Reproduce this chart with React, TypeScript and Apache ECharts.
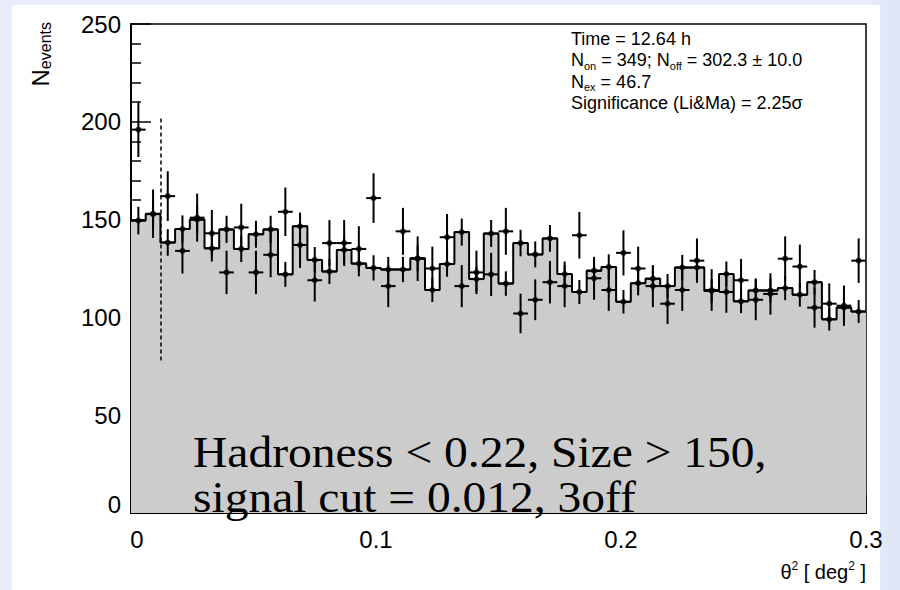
import React, { useEffect, useRef } from "react";
import * as echarts from "echarts";

// ---- data ----
const BIN_WIDTH = 0.006;
const SIGNAL_CUT = 0.012;
const N_OFF_REGIONS = 3;

// OFF histogram (normalised, 3 off regions), one value per bin of 0.006 deg^2
const offCounts = [
  149.5, 152.8, 138.3, 145.2, 150.0, 135.3, 145.0, 135.0, 142.5, 145.0,
  122.0, 146.6, 129.4, 123.5, 134.5, 127.5, 125.3, 124.5, 124.5, 130.2,
  114.0, 127.3, 143.6, 119.6, 142.9, 117.3, 138.0, 132.2, 140.4, 122.2,
  113.0, 123.9, 125.8, 108.0, 117.5, 119.8, 116.0, 125.5, 125.5, 113.5,
  122.2, 108.2, 113.8, 113.8, 115.0, 111.6, 118.0, 99.0, 105.0, 103.0,
];

// ON counts, one per bin
const onCounts = [
  196, 153, 162, 134, 151, 143, 123, 146, 123, 132,
  154, 137, 119, 138, 138, 135, 161, 116, 144, 130,
  125, 141, 116, 123, 122, 144, 102, 109, 118, 116,
  142, 120, 114, 133, 125, 116, 107, 114, 129, 114,
  113, 119, 109, 112, 130, 126, 105, 107, 106, 129,
];

const xTickLabels = ["0", "0.1", "0.2", "0.3"];
const yTickLabels = ["0", "50", "100", "150", "200", "250"];
const cutLineRange = [78, 203];

const statsLines = [
  "{t|Time = 12.64 h}",
  "{t|N}{s|on}{t| = 349; N}{s|off}{t| = 302.3 ± 10.0}",
  "{t|N}{s|ex}{t| = 46.7}",
  "{t|Significance (Li&Ma) = 2.25σ}",
];
const cutTextLines = ["Hadroness < 0.22, Size > 150,", "signal cut = 0.012, 3off"];

const SANS = "'Liberation Sans', Arial, Helvetica, sans-serif";
const SERIF = "'Liberation Serif', 'Times New Roman', serif";

export default function App() {
  const ref = useRef<HTMLDivElement>(null);

  useEffect(() => {
    if (!ref.current) return;
    const chart = echarts.init(ref.current, null, { renderer: "svg" });

    const nBins = offCounts.length;
    const edges: number[][] = offCounts.map((v, i) => [i * BIN_WIDTH, v]);
    edges.push([nBins * BIN_WIDTH, offCounts[nBins - 1]]);

    const center = (i: number) => (i + 0.5) * BIN_WIDTH;
    const offPts = offCounts.map((v, i) => [center(i), v, Math.sqrt(v / N_OFF_REGIONS)]);
    const onPts = onCounts.map((v, i) => [center(i), v, Math.sqrt(v)]);

    const errRender = (params: any, api: any) => {
      const x = api.value(0);
      const v = api.value(1);
      const e = api.value(2);
      const lo = api.coord([x, v - e]);
      const hi = api.coord([x, v + e]);
      const l = api.coord([x - BIN_WIDTH / 2, v]);
      const r = api.coord([x + BIN_WIDTH / 2, v]);
      const st = { stroke: "#000", lineWidth: 2 };
      return {
        type: "group",
        children: [
          { type: "line", shape: { x1: lo[0], y1: lo[1], x2: hi[0], y2: hi[1] }, style: st },
          { type: "line", shape: { x1: l[0], y1: l[1], x2: r[0], y2: r[1] }, style: st },
        ],
      };
    };

    const tickStyle = { color: "#000", width: 1.5 };

    const cutTextGraphics = cutTextLines.map((line, i) => ({
      type: "text",
      x: 193,
      y: 452 + i * 45,
      scaleX: 1.08,
      z: 10,
      style: {
        text: line,
        fill: "#000",
        fontSize: 44,
        fontFamily: SERIF,
        lineHeight: 44,
        align: "left",
        verticalAlign: "middle",
      },
    }));

    chart.setOption({
      animation: false,
      backgroundColor: "transparent",
      grid: {
        left: 131,
        right: 34,
        top: 24,
        bottom: 77,
        show: true,
        borderColor: "#000",
        borderWidth: 1.5,
        backgroundColor: "#fff",
      },
      xAxis: {
        type: "value",
        min: 0,
        max: 0.3,
        interval: 0.1,
        axisLine: { show: true, onZero: false, lineStyle: { color: "#000", width: 2 } },
        axisTick: { show: true, inside: true, length: 18, lineStyle: tickStyle },
        minorTick: { show: true, splitNumber: 5, length: 9, lineStyle: tickStyle },
        splitLine: { show: false },
        axisLabel: {
          color: "#000",
          fontSize: 24,
          fontFamily: SANS,
          margin: 14,
          formatter: (v: number) => {
            const s = xTickLabels[Math.round(v / 0.1)] ?? "";
            return v === 0 ? "{z|" + s + "}" : s;
          },
          rich: { z: { fontSize: 24, fontFamily: SANS, color: "#000", padding: [0, 0, 0, 12] } },
        },
      },
      yAxis: {
        type: "value",
        min: 0,
        max: 250,
        interval: 50,
        axisLine: { show: true, onZero: false, lineStyle: { color: "#000", width: 2 } },
        axisTick: { show: true, inside: true, length: 20, lineStyle: tickStyle },
        minorTick: { show: true, splitNumber: 5, length: 10, lineStyle: tickStyle },
        splitLine: { show: false },
        axisLabel: {
          color: "#000",
          fontSize: 24,
          fontFamily: SANS,
          margin: 10,
          formatter: (v: number) => {
            const s = yTickLabels[Math.round(v / 50)] ?? "";
            return v === 0 ? "{z|" + s + "}" : s;
          },
          rich: { z: { fontSize: 24, fontFamily: SANS, color: "#000", padding: [0, 0, 18, 0] } },
        },
      },
      series: [
        {
          type: "line",
          step: "end",
          data: edges,
          symbol: "none",
          lineStyle: { color: "#000", width: 2 },
          areaStyle: { color: "#cccccc", opacity: 1, origin: "start" },
          markLine: {
            symbol: "none",
            silent: true,
            label: { show: false },
            lineStyle: { color: "#000", width: 1.5, type: [4, 3] },
            data: [[{ coord: [SIGNAL_CUT, cutLineRange[0]] }, { coord: [SIGNAL_CUT, cutLineRange[1]] }]],
          },
          z: 1,
        },
        { type: "custom", data: offPts, renderItem: errRender, z: 3 },
        { type: "custom", data: onPts, renderItem: errRender, z: 3 },
        { type: "scatter", data: offPts.map((p) => [p[0], p[1]]), symbolSize: 6, itemStyle: { color: "#000" }, z: 4 },
        { type: "scatter", data: onPts.map((p) => [p[0], p[1]]), symbolSize: 6, itemStyle: { color: "#000" }, z: 4 },
      ],
      graphic: [
        {
          type: "text",
          x: 571,
          y: 28,
          z: 10,
          style: {
            text: statsLines.join("\n"),
            fill: "#000",
            align: "left",
            verticalAlign: "top",
            rich: {
              t: { fontSize: 18, fontFamily: SANS, lineHeight: 21.5, verticalAlign: "middle", fill: "#000" },
              s: { fontSize: 11, fontFamily: SANS, lineHeight: 11, verticalAlign: "bottom", fill: "#000" },
            },
          },
        },
        ...cutTextGraphics,
        {
          type: "text",
          x: 40,
          y: 22,
          rotation: Math.PI / 2,
          z: 10,
          style: {
            text: "{n|N}{s|events}",
            align: "right",
            verticalAlign: "middle",
            rich: {
              n: { fontSize: 24, fontFamily: SANS, lineHeight: 26, verticalAlign: "middle", fill: "#000" },
              s: { fontSize: 16, fontFamily: SANS, lineHeight: 14, verticalAlign: "bottom", fill: "#000" },
            },
          },
        },
        {
          type: "text",
          x: 866,
          y: 572,
          z: 10,
          style: {
            text: "{t|θ}{p|2}{t| [ deg}{p|2}{t| ]}",
            align: "right",
            verticalAlign: "middle",
            rich: {
              t: { fontSize: 20, fontFamily: SANS, lineHeight: 24, verticalAlign: "middle", fill: "#000" },
              p: { fontSize: 12, fontFamily: SANS, lineHeight: 12, verticalAlign: "top", fill: "#000" },
            },
          },
        },
      ],
    });

    return () => chart.dispose();
  }, []);

  return (
    <div
      style={{
        position: "fixed",
        left: 0,
        top: 0,
        width: 900,
        height: 590,
        background: "linear-gradient(90deg, #e9ecfb 0%, #e9ecfb 96%, #dfe5f7 100%)",
      }}
    >
      <div style={{ position: "absolute", left: 12, top: 5, width: 868, height: 585, background: "#fff" }} />
      <div ref={ref} style={{ position: "absolute", left: 0, top: 0, width: 900, height: 590 }} />
    </div>
  );
}
